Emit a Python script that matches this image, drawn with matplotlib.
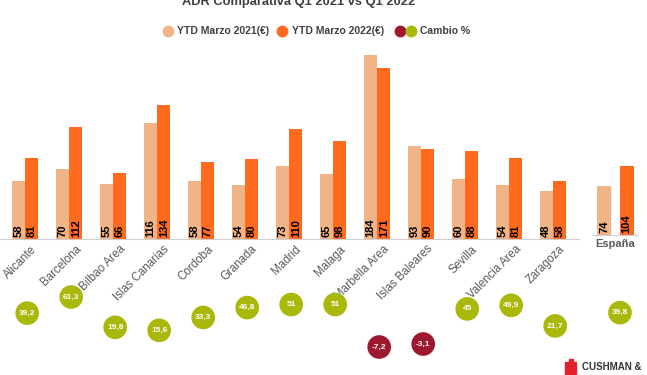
import numpy as np
import matplotlib
matplotlib.use("Agg")
import matplotlib.pyplot as plt
import matplotlib.transforms as mtrans
from matplotlib.lines import Line2D

plt.rcParams["font.family"] = ["Liberation Sans", "DejaVu Sans"]

cities = ["Alicante", "Barcelona", "Bilbao Area", "Islas Canarias", "Cordoba",
          "Granada", "Madrid", "Malaga", "Marbella Area", "Islas Baleares",
          "Sevilla", "Valencia Area", "Zaragoza"]
adr_2021 = [58, 70, 55, 116, 58, 54, 73, 65, 184, 93, 60, 54, 48]
adr_2022 = [81, 112, 66, 134, 77, 80, 110, 98, 171, 90, 88, 81, 58]
spain_label = "España"
spain_2021 = 74
spain_2022 = 104
change = [39.2, 61.3, 19.8, 15.6, 33.3, 46.8, 51, 51, -7.2, -3.1, 45, 49.9, 21.7]
spain_change = 39.8

C21 = "#F0B486"
C22 = "#FF6A1F"
GREEN = "#AAB80C"
RED = "#9E1830"
GRAY = "#595959"

W, H = 647, 375
fig = plt.figure(figsize=(W / 100, H / 100), dpi=100)


def box(x0, y_top, w, h):
    return [x0 / W, 1 - (y_top + h) / H, w / W, h / H]


# ---- main bars: 44 px per category, 1 px per euro ----
step = 44.0
left_px = 25 - 0.6 * step
n = len(cities)
ax = fig.add_axes(box(left_px, 39, (n + 0.2) * step, 200))
x = np.arange(n)
bw = 0.3
ax.bar(x - 0.155, adr_2021, bw, color=C21)
ax.bar(x + 0.155, adr_2022, bw, color=C22)
for i in range(n):
    for dx, v in ((-0.155, adr_2021[i]), (0.155, adr_2022[i])):
        ax.text(x[i] + dx, 2, str(v), rotation=90, ha="center", va="bottom",
                fontsize=8, fontweight="bold", color="black")
ax.set_xlim(-0.6, n - 0.4)
ax.set_ylim(0, 200)
ax.set_xticks(x)
ax.set_xticklabels(cities, rotation=45, ha="right", rotation_mode="anchor",
                   fontsize=8.3, color=GRAY)
ax.tick_params(axis="x", length=0, pad=3)
shift = mtrans.ScaledTranslation(6 / 100, 0, fig.dpi_scale_trans)
for lab in ax.get_xticklabels():
    lab.set_transform(lab.get_transform() + shift)
ax.set_yticks([])
for s in ("top", "right", "left"):
    ax.spines[s].set_visible(False)
ax.spines["bottom"].set_color("#cfcfcf")
ax.patch.set_alpha(0)

# ---- Spain bars: own scale ----
axs = fig.add_axes(box(593, 235 - 132, 45, 132))
axs.bar([-0.25], [spain_2021], 0.31, color=C21)
axs.bar([0.25], [spain_2022], 0.31, color=C22)
for dx, v in ((-0.25, spain_2021), (0.25, spain_2022)):
    axs.text(dx, 3, str(v), rotation=90, ha="center", va="bottom",
             fontsize=8, fontweight="bold", color="black")
axs.set_xlim(-0.5, 0.5)
axs.set_ylim(0, 200)
axs.set_xticks([0])
axs.set_xticklabels([spain_label], fontsize=8, color=GRAY, fontweight="bold")
axs.tick_params(axis="x", length=0, pad=3)
axs.set_yticks([])
for s in ("top", "right", "left"):
    axs.spines[s].set_visible(False)
axs.spines["bottom"].set_color("#cfcfcf")
axs.patch.set_alpha(0)

# ---- change bubbles ----
axb = fig.add_axes(box(left_px, 279.7, W - left_px, 80.3))
bx = list(x + 0.05) + [(620 - left_px) / step - 0.6]
by = change + [spain_change]
cols = [RED if v < 0 else GREEN for v in by]
axb.scatter(bx, by, s=290, c=cols, edgecolors="none")
for xi, v in zip(bx, by):
    lab = ("%g" % v).replace(".", ",")
    axb.text(xi, v, lab, ha="center", va="center", fontsize=6,
             color="white", fontweight="bold")
axb.set_xlim(-0.6, -0.6 + (W - left_px) / step)
axb.set_ylim(-25, 85)
axb.axis("off")

# ---- title & legend ----
fig.text(299 / W, 1 - 2 / H, "ADR Comparativa Q1 2021 vs Q1 2022", ha="center",
         va="center", fontsize=9.3, fontweight="bold", color="#404040")
ly = 1 - 31 / H
for mx, col in ((168, C21), (282, C22), (400, RED), (411, GREEN)):
    fig.add_artist(Line2D([mx / W], [ly], ls="", marker="o", ms=7.5,
                          color=col, transform=fig.transFigure))
for tx, txt in ((177, "YTD Marzo 2021(€)"), (292, "YTD Marzo 2022(€)"),
                (420, "Cambio %")):
    fig.text(tx / W, ly, txt, ha="left", va="center", fontsize=7.5,
             fontweight="bold", color="#404040")

# ---- logo ----
fig.patches.append(plt.Rectangle((565 / W, 0), 11 / W, 13 / H, color="#E4202E",
                                 transform=fig.transFigure, figure=fig))
fig.patches.append(plt.Rectangle((569 / W, 13 / H), 4 / W, 3 / H, color="#E4202E",
                                 transform=fig.transFigure, figure=fig))
fig.text(582 / W, 1 - 367 / H, "CUSHMAN &", fontsize=7, color="#333333",
         fontweight="bold", va="center", ha="left")

fig.savefig("out.png", dpi=100)
